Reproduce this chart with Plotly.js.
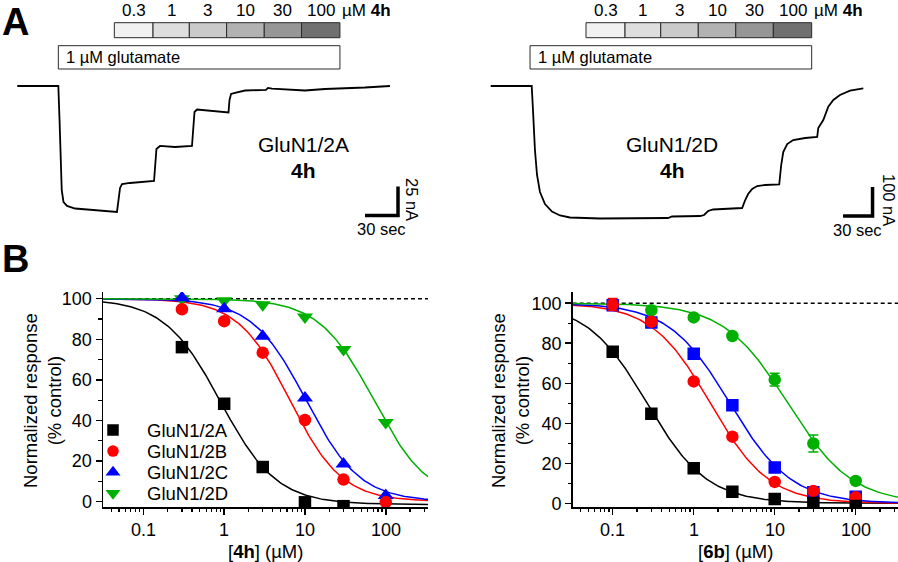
<!DOCTYPE html>
<html><head><meta charset="utf-8">
<script src="https://cdn.plot.ly/plotly-3.0.1.min.js"></script>
<style>html,body{margin:0;padding:0;background:#fff}#chart{width:898px;height:562px}</style>
</head><body><div id="chart"></div>
<script>
const FONT = 'Liberation Sans, Arial, Helvetica, sans-serif';

// ---------------- Panel A data (current traces) ----------------
const concLabels = ['0.3', '1', '3', '10', '30', '100'];
const concShades = ['#f1f1f1', '#dedede', '#cacaca', '#b2b2b2', '#969696', '#707070'];
// application times (s): start of each concentration, last = wash
const appTimes2A = [88.2, 123.4, 156.4, 190.3, 224.5, 258.4, 293.3];
const gluOn2A = 37.3;
const appTimes2D = [96.9, 136.6, 172.9, 211.1, 249.2, 287.4, 326.4];
const gluOn2D = 40.0;

// GluN1/2A trace: time (s), current (nA)
const time2A = [0, 37.3, 38.4, 39.3, 40.4, 42.0, 45.2, 52.5, 66.1, 90.6, 92.0, 93.4, 95.2, 102.5, 124.3,
  125.2, 126.5, 129.7, 143.3, 158.8, 159.7, 161.1, 163.4, 175.2, 192.0, 192.9, 194.3, 197.9, 207.0,
  226.1, 227.9, 231.5, 243.3, 261.5, 279.7, 297.9, 316.0, 338.8];
const curr2A = [0, 0, -29.3, -63.8, -89.7, -100.0, -103.4, -105.6, -106.9, -108.6, -98.3, -87.9, -84.5, -83.6, -81.9,
  -68.1, -54.3, -51.7, -52.6, -51.7, -36.2, -22.4, -20.3, -21.1, -22.8, -12.1, -6.9, -6.0, -3.9,
  -3.4, -1.7, -2.2, -3.0, -3.9, -2.6, -2.2, -1.3, 0];

// GluN1/2D trace: time (s), current (nA)
const time2D = [0, 41.7, 43.0, 45.0, 47.1, 50.1, 55.2, 62.3, 70.5, 80.6, 111.2, 151.8, 180.3, 184.4, 213.0,
  217.0, 221.1, 226.2, 243.5, 255.7, 258.8, 261.8, 265.9, 271.0, 279.2, 293.4, 295.4, 297.5, 301.5,
  307.6, 319.8, 332.0, 333.1, 338.2, 343.3, 348.4, 355.2, 365.4, 378.9];
const curr2D = [0, 0, -82.8, -220.7, -306.9, -365.5, -406.9, -432.7, -446.5, -453.4, -456.9, -456.2, -455.2, -450.0, -448.3,
  -444.8, -431.0, -425.8, -424.1, -420.7, -393.1, -372.4, -355.2, -344.8, -341.4, -339.6, -272.4, -227.6, -200.0,
  -186.2, -179.3, -175.9, -144.8, -117.2, -71.4, -48.3, -31.0, -16.2, -7.9];

// scale bars: [seconds, nA]
const scale2A = [30, 25];
const scale2D = [30, 100];

// ---------------- Panel B data (concentration-response) ----------------
const groups = ['GluN1/2A', 'GluN1/2B', 'GluN1/2C', 'GluN1/2D'];
const colors = ['#000000', '#ff0000', '#0000ff', '#00b000'];
const symbols4h = ['square', 'circle', 'triangle-up', 'triangle-down'];
const symbols6b = ['square', 'circle', 'square', 'circle'];

const conc4h = [0.3, 1, 3, 10, 30, 100];
const resp4h_2A = [76.1, 48.2, 17.0, -0.4, -2.3];
const resp4h_2B = [94.8, 88.9, 73.4, 40.2, 10.8, -0.3];
const resp4h_2C = [100.5, 95.0, 81.5, 51.0, 18.5, 3.0];
const resp4h_2D = [100.0, 99.0, 97.0, 91.0, 75.0, 39.0];
// fitted curves: IC50 (µM), Hill slope, bottom plateau
const ic50_4h = [0.9, 6.5, 10.3, 71];
const nH_4h = [1.25, 1.35, 1.3, 1.28];
const bottom_4h = [-1.5, 0, 0, 0];

const conc6b = [0.1, 0.3, 1, 3, 10, 30, 100];
const resp6b_2A = [75.8, 44.7, 17.5, 5.8, 2.1, 0.2, -1.4];
const resp6b_2B = [99.3, 90.7, 60.9, 33.3, 10.7, 6.1, 3.0];
const resp6b_2C = [99.0, 90.4, 74.8, 49.0, 17.9, 5.5, 3.3];
const resp6b_2D = [99.5, 96.5, 92.9, 83.6, 61.8, 29.9, 11.2];
const err6b_2B = [3.0, 1.0, 1.0, 1.0, 1.0, 1.0, 1.0];
const err6b_2D = [1.0, 1.0, 1.0, 1.0, 3.2, 4.2, 1.0];
const ic50_6b = [0.266, 1.6, 2.8, 14.5];
const nH_6b = [1.17, 1.2, 1.15, 1.1];
const bottom_6b = [0, 0, 0, 0];

const xTickVals = [0.1, 1, 10, 100];
const xTickText = ['0.1', '1', '10', '100'];
const yTickVals = [0, 20, 40, 60, 80, 100];
const yMinorVals = [10, 30, 50, 70, 90];
const yTitle = 'Normalized response<br>(% control)';
const xTitles = ['[<b>4h</b>] (µM)', '[<b>6b</b>] (µM)'];

// ---------------- build ----------------
const xMinorVals = [];
[0.01, 0.1, 1, 10, 100].forEach(d => { for (let k = 2; k <= 9; k++) { const v = d * k; if (v > 0.03 && v < 340) xMinorVals.push(v); } });

function hillCurve(ic, n, b) {
  const xs = [], ys = [];
  for (let i = 0; i <= 200; i++) {
    const x = Math.pow(10, -1.6 + i * 4.2 / 200);
    xs.push(x); ys.push(b + (100 - b) / (1 + Math.pow(x / ic, n)));
  }
  return {xs, ys};
}

const data = [];
// top traces
data.push({x: time2A, y: curr2A, xaxis: 'x3', yaxis: 'y3', mode: 'lines', line: {color: '#000', width: 1.8}, showlegend: false, hoverinfo: 'skip'});
data.push({x: time2D, y: curr2D, xaxis: 'x4', yaxis: 'y4', mode: 'lines', line: {color: '#000', width: 1.8}, showlegend: false, hoverinfo: 'skip'});
// scale bars
const sb2A_t = 316.1, sb2A_i = -111.6, sb2D_t = 358.3, sb2D_i = -448.3;
data.push({x: [sb2A_t, sb2A_t + scale2A[0], sb2A_t + scale2A[0]], y: [sb2A_i, sb2A_i, sb2A_i + scale2A[1]], xaxis: 'x3', yaxis: 'y3', mode: 'lines', line: {color: '#000', width: 3.5}, showlegend: false, hoverinfo: 'skip'});
data.push({x: [sb2D_t, sb2D_t + scale2D[0], sb2D_t + scale2D[0]], y: [sb2D_i, sb2D_i, sb2D_i + scale2D[1]], xaxis: 'x4', yaxis: 'y4', mode: 'lines', line: {color: '#000', width: 3.5}, showlegend: false, hoverinfo: 'skip'});

// curves
[0, 1, 2, 3].forEach(g => {
  const c = hillCurve(ic50_4h[g], nH_4h[g], bottom_4h[g]);
  data.push({x: c.xs, y: c.ys, xaxis: 'x', yaxis: 'y', mode: 'lines', line: {color: colors[g], width: 1.5}, showlegend: false, hoverinfo: 'skip'});
  const d = hillCurve(ic50_6b[g], nH_6b[g], bottom_6b[g]);
  data.push({x: d.xs, y: d.ys, xaxis: 'x2', yaxis: 'y2', mode: 'lines', line: {color: colors[g], width: 1.5}, showlegend: false, hoverinfo: 'skip'});
});
// markers: draw D, C, B, A (A on top)
const resp4h = [resp4h_2A, resp4h_2B, resp4h_2C, resp4h_2D];
const resp6b = [resp6b_2A, resp6b_2B, resp6b_2C, resp6b_2D];
const err6b = [null, err6b_2B, null, err6b_2D];
[3, 2, 1, 0].forEach(g => {
  data.push({x: conc4h.slice(0, resp4h[g].length), y: resp4h[g], xaxis: 'x', yaxis: 'y', mode: 'markers',
    marker: {symbol: symbols4h[g], color: colors[g], opacity: 1, size: symbols4h[g].startsWith('triangle') ? 14 : 12.5, line: {width: 0}}, showlegend: false, hoverinfo: 'skip'});
});
[3, 2, 1, 0].forEach(g => {
  const tr = {x: conc6b, y: resp6b[g], xaxis: 'x2', yaxis: 'y2', mode: 'markers',
    marker: {symbol: symbols6b[g], color: colors[g], opacity: 1, size: 12.5, line: {width: 0}}, showlegend: false, hoverinfo: 'skip'};
  if (err6b[g]) tr.error_y = {type: 'data', array: err6b[g], visible: true, color: colors[g], thickness: 1.5, width: 5};
  data.push(tr);
});
// manual legend (overlay axis in pixel units)
const legX = 113, legTextX = 145, legY0 = 430, legDY = 21.1;
data.push({x: groups.map(() => legX), y: groups.map((_, i) => legY0 + i * legDY), xaxis: 'x5', yaxis: 'y5', mode: 'markers',
  marker: {symbol: symbols4h, color: colors, opacity: 1, size: symbols4h.map(s => s.startsWith('triangle') ? 13 : 11.5), line: {width: 0}}, showlegend: false, hoverinfo: 'skip'});

const annotations = [];
const shapes = [];
function txt(text, x, y, size, opts) {
  return Object.assign({text, x, y, xref: 'paper', yref: 'paper', showarrow: false, xanchor: 'center', yanchor: 'middle', font: {family: FONT, size, color: '#000'}}, opts || {});
}
const px = v => v / 898, py = v => 1 - v / 562;

// panel letters
annotations.push(txt('<b>A</b>', px(1), 1, 38, {xanchor: 'left', yanchor: 'top', borderpad: 0}));
annotations.push(txt('<b>B</b>', px(1), py(259), 38, {xanchor: 'left', borderpad: 0}));

// concentration bars
[[appTimes2A, gluOn2A, 'x3'], [appTimes2D, gluOn2D, 'x4']].forEach(([tt, glu, xr]) => {
  for (let k = 0; k < 6; k++) {
    shapes.push({type: 'rect', xref: xr, yref: 'paper', x0: tt[k], x1: tt[k + 1], y0: py(37.7), y1: py(22.7), fillcolor: concShades[k], line: {color: '#2a2a2a', width: 1}});
    annotations.push({text: concLabels[k], x: (tt[k] + tt[k + 1]) / 2, y: py(11), xref: xr, yref: 'paper', showarrow: false, xanchor: 'center', yanchor: 'middle', font: {family: FONT, size: 17, color: '#000'}});
  }
  annotations.push({text: 'µM <b>4h</b>', x: tt[6], y: py(11), xref: xr, yref: 'paper', xshift: 0, showarrow: false, xanchor: 'left', yanchor: 'middle', font: {family: FONT, size: 17, color: '#000'}});
  shapes.push({type: 'rect', xref: xr, yref: 'paper', x0: glu, x1: tt[6], y0: py(69), y1: py(45.7), fillcolor: '#ffffff', line: {color: '#2a2a2a', width: 1}});
  annotations.push({text: '1 µM glutamate', x: glu, y: py(57), xref: xr, yref: 'paper', xshift: 6, showarrow: false, xanchor: 'left', yanchor: 'middle', font: {family: FONT, size: 16.5, color: '#000'}});
});
annotations.push(txt('GluN1/2A', px(303), py(144), 21));
annotations.push(txt('<b>4h</b>', px(303), py(170), 21));
annotations.push(txt('GluN1/2D', px(672), py(144), 21));
annotations.push(txt('<b>4h</b>', px(672), py(170), 21));
// scale bar labels
annotations.push({text: '30 sec', x: sb2A_t + scale2A[0] / 2, y: sb2A_i, xref: 'x3', yref: 'y3', yshift: -14, showarrow: false, xanchor: 'center', yanchor: 'middle', font: {family: FONT, size: 16.5, color: '#000'}});
annotations.push({text: '25 nA', x: sb2A_t + scale2A[0], y: sb2A_i + scale2A[1] / 2, xref: 'x3', yref: 'y3', xshift: 14, yshift: 2, textangle: 90, showarrow: false, xanchor: 'center', yanchor: 'middle', font: {family: FONT, size: 16.5, color: '#000'}});
annotations.push({text: '30 sec', x: sb2D_t + scale2D[0] / 2, y: sb2D_i, xref: 'x4', yref: 'y4', yshift: -14, showarrow: false, xanchor: 'center', yanchor: 'middle', font: {family: FONT, size: 16.5, color: '#000'}});
annotations.push({text: '100 nA', x: sb2D_t + scale2D[0], y: sb2D_i + scale2D[1] / 2, xref: 'x4', yref: 'y4', xshift: 17, yshift: 2, textangle: 90, showarrow: false, xanchor: 'center', yanchor: 'middle', font: {family: FONT, size: 16.5, color: '#000'}});

// legend texts
groups.forEach((g, i) => annotations.push({text: g, x: legTextX, y: legY0 + i * legDY, xref: 'x5', yref: 'y5', showarrow: false, xanchor: 'left', yanchor: 'middle', font: {family: FONT, size: 18.5, color: '#000'}}));

// axis titles and x tick labels (panel B)
annotations.push(txt(yTitle, px(42), py(401), 18.5, {textangle: -90}));
annotations.push(txt(yTitle, px(510), py(401), 18.5, {textangle: -90}));
annotations.push(txt(xTitles[0], px(265.5), py(551), 18.5, {height: 21}));
annotations.push(txt(xTitles[1], px(735), py(551), 18.5, {height: 21}));
['x', 'x2'].forEach(xr => xTickVals.forEach((v, k) => annotations.push({text: xTickText[k], x: Math.log10(v), y: py(530), xref: xr, yref: 'paper',
  showarrow: false, xanchor: 'center', yanchor: 'middle', font: {family: FONT, size: 18, color: '#000'}})));

// dashed 100% lines
shapes.push({type: 'line', xref: 'x domain', yref: 'y', x0: 0, x1: 1, y0: 100, y1: 100, layer: 'below', line: {color: '#000', width: 1.5, dash: '4px,3px'}});
shapes.push({type: 'line', xref: 'x2 domain', yref: 'y2', x0: 0, x1: 1, y0: 100, y1: 100, layer: 'below', line: {color: '#000', width: 1.5, dash: '4px,3px'}});

function xAxisB(domain, range) {
  return {type: 'log', domain, range, showline: true, linecolor: '#000', linewidth: 1.5, showgrid: false, zeroline: false,
    ticks: 'outside', ticklen: 6, tickwidth: 1.5, tickcolor: '#000', tickmode: 'array', tickvals: xTickVals, showticklabels: false,
    minor: {ticks: 'outside', ticklen: 3.5, tickwidth: 1.2, tickcolor: '#000', tickmode: 'array', tickvals: xMinorVals, showgrid: false},
    fixedrange: true};
}
function yAxisB(domain, range, anchor) {
  return {domain, range, anchor, showline: true, linecolor: '#000', linewidth: 1.5, showgrid: false, zeroline: false,
    ticks: 'outside', ticklen: 6, tickwidth: 1.5, tickcolor: '#000', tickmode: 'array', tickvals: yTickVals,
    minor: {ticks: 'outside', ticklen: 3.5, tickwidth: 1.2, tickcolor: '#000', tickmode: 'array', tickvals: yMinorVals, showgrid: false},
    tickfont: {family: FONT, size: 18, color: '#000'}, fixedrange: true};
}
const hidden = (domain, range, anchor) => ({domain, range, anchor, visible: false, showgrid: false, zeroline: false, fixedrange: true});

const layout = {
  width: 898, height: 562, margin: {l: 0, r: 0, t: 0, b: 0},
  paper_bgcolor: '#fff', plot_bgcolor: 'rgba(0,0,0,0)', showlegend: false,
  font: {family: FONT, color: '#000'},
  xaxis: Object.assign(xAxisB([103 / 898, 428 / 898], [-1.5, 2.523]), {anchor: 'y'}),
  yaxis: yAxisB([55 / 562, 270 / 562], [-2.71, 103.3], 'x'),
  xaxis2: Object.assign(xAxisB([572.7 / 898, 1], [-1.494, 2.522]), {anchor: 'y2'}),
  yaxis2: yAxisB([55 / 562, 270 / 562], [-1.84, 105.6], 'x2'),
  xaxis3: hidden([0, 450 / 898], [-15.73, 393.36], 'y3'),
  yaxis3: hidden([322 / 562, 1], [-132.76, 74.14], 'x3'),
  xaxis4: hidden([450 / 898, 1], [-41.39, 414.18], 'y4'),
  yaxis4: hidden([322 / 562, 1], [-531.0, 296.5], 'x4'),
  xaxis5: hidden([0, 1], [0, 898], 'y5'),
  yaxis5: hidden([0, 1], [562, 0], 'x5'),
  shapes, annotations
};
Plotly.newPlot('chart', data, layout, {displayModeBar: false, staticPlot: true});
</script></body></html>
